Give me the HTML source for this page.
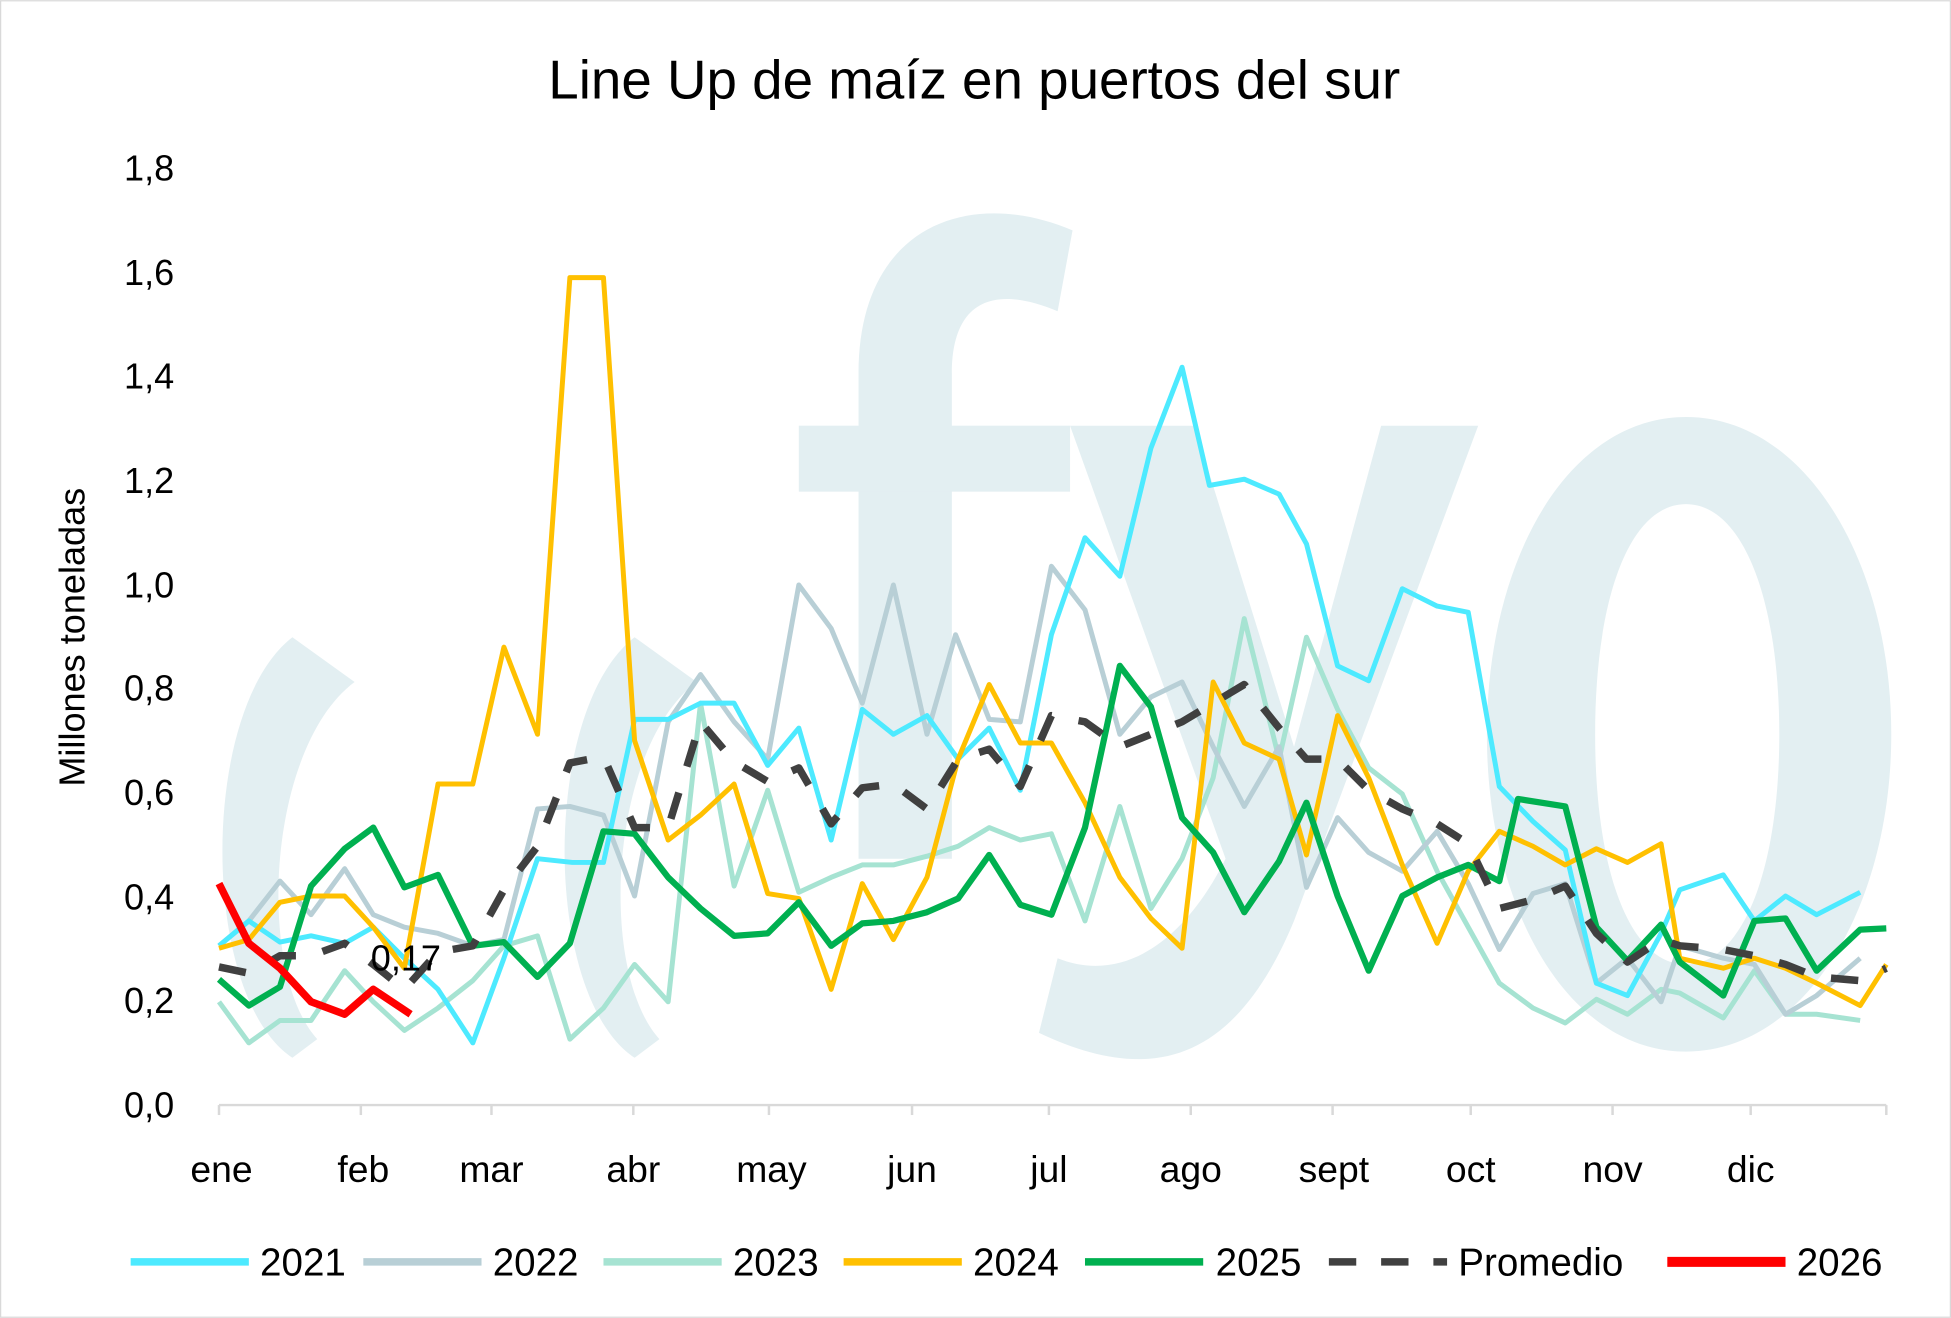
<!DOCTYPE html>
<html><head><meta charset="utf-8"><style>
html,body{margin:0;padding:0;background:#fff}
svg{display:block}
text{font-family:"Liberation Sans",sans-serif}
</style></head><body>
<svg width="1951" height="1318" viewBox="0 0 1568 1059" xmlns="http://www.w3.org/2000/svg">
<rect x="0.5" y="0.5" width="1567" height="1058" fill="#fff" stroke="#d9d9d9"/>
<!-- watermark -->
<g fill="#e3eff2">
<path d="M235,512 C160,570 160,800 235,850 L255,835 C205,780 215,600 285,548 Z"/>
<path d="M510,512 C435,570 435,800 510,850 L530,835 C480,780 490,600 560,548 Z"/>
<path d="M690,690 L690,300 C690,180 780,150 862,185 L850,250 C790,225 765,250 765,300 L765,690 Z"/>
<rect x="642" y="342" width="218" height="53"/>
<path d="M860,342 L960,342 L1040,600 L1110,342 L1188,342 L1040,740 C990,860 920,870 835,830 L850,770 C900,790 950,760 985,690 Z"/>
<path fill-rule="evenodd" d="M1355,335 C1450,335 1520,450 1520,590 C1520,730 1450,845 1355,845 C1260,845 1195,730 1195,590 C1195,450 1260,335 1355,335 Z M1355,405 C1310,405 1282,480 1282,590 C1282,700 1310,775 1355,775 C1400,775 1430,700 1430,590 C1430,480 1400,405 1355,405 Z"/>
</g>
<text x="783" y="79" font-size="44" text-anchor="middle" fill="#000">Line Up de maíz en puertos del sur</text>
<g font-size="29" fill="#000" text-anchor="end">
<text x="140" y="898">0,0</text><text x="140" y="814">0,2</text><text x="140" y="731">0,4</text>
<text x="140" y="647">0,6</text><text x="140" y="563">0,8</text><text x="140" y="480">1,0</text>
<text x="140" y="396">1,2</text><text x="140" y="312">1,4</text><text x="140" y="229">1,6</text>
<text x="140" y="145">1,8</text>
</g>
<text transform="translate(68,512) rotate(-90)" font-size="29" text-anchor="middle">Millones toneladas</text>
<line x1="176" y1="888" x2="1516" y2="888" stroke="#d9d9d9" stroke-width="2"/>
<g stroke="#d9d9d9" stroke-width="2">
<line x1="176" y1="888" x2="176" y2="896"/><line x1="290" y1="888" x2="290" y2="896"/><line x1="395" y1="888" x2="395" y2="896"/><line x1="509" y1="888" x2="509" y2="896"/><line x1="618" y1="888" x2="618" y2="896"/><line x1="733" y1="888" x2="733" y2="896"/><line x1="843" y1="888" x2="843" y2="896"/><line x1="957" y1="888" x2="957" y2="896"/><line x1="1071" y1="888" x2="1071" y2="896"/><line x1="1182" y1="888" x2="1182" y2="896"/><line x1="1296" y1="888" x2="1296" y2="896"/><line x1="1407" y1="888" x2="1407" y2="896"/><line x1="1516" y1="888" x2="1516" y2="896"/>
</g>
<g font-size="30" text-anchor="middle">
<text x="178" y="950">ene</text><text x="292" y="950">feb</text><text x="395" y="950">mar</text><text x="509" y="950">abr</text><text x="620" y="950">may</text><text x="733" y="950">jun</text><text x="843" y="950">jul</text><text x="957" y="950">ago</text><text x="1072" y="950">sept</text><text x="1182" y="950">oct</text><text x="1296" y="950">nov</text><text x="1407" y="950">dic</text>
</g>
<g fill="none" stroke-width="4" stroke-linejoin="round">
<polyline stroke="#a6e3d2" points="176,805 200,838 225,820 250,820 277,780 300,805 325,828 352,810 380,788 405,760 432,752 458,835 485,810 510,775 537,805 563,565 590,712 617,635 642,717 668,705 693,695 718,695 745,688 770,680 795,665 820,675 845,670 872,740 900,648 925,730 950,690 975,625 1000,497 1028,610 1050,512 1075,570 1100,617 1127,638 1155,700 1180,745 1205,790 1232,810 1258,822 1283,803 1308,815 1335,795 1350,798 1385,818 1410,780 1435,815 1460,815 1495,820"/>
<polyline stroke="#b8cfd6" points="176,760 200,740 225,708 250,735 277,698 300,735 325,745 352,750 380,760 405,755 432,650 458,648 485,655 510,720 537,580 563,542 590,580 617,610 642,470 668,505 693,565 718,470 745,590 768,510 795,578 820,580 845,455 872,490 900,590 925,560 950,548 975,600 1000,648 1028,600 1050,713 1075,657 1100,685 1127,700 1155,668 1180,710 1205,763 1232,718 1258,710 1283,790 1308,770 1335,805 1350,760 1385,770 1410,775 1435,815 1460,800 1495,770"/>
<polyline stroke="#4deaff" points="176,760 200,740 225,757 250,752 277,758 300,745 325,770 352,795 380,838 405,770 432,690 460,693 485,693 510,578 537,578 563,565 590,565 617,615 642,585 668,675 693,570 718,590 745,575 770,610 795,585 820,635 845,510 872,432 900,463 925,360 950,295 972,390 1000,385 1028,397 1050,437 1075,535 1100,547 1127,473 1155,487 1180,492 1205,632 1232,660 1258,683 1283,790 1308,800 1335,750 1350,715 1385,703 1410,740 1435,720 1460,735 1495,717"/>
<polyline stroke="#ffc000" points="176,762 200,755 225,725 250,720 277,720 300,745 325,778 352,630 380,630 405,520 432,590 458,223 485,223 510,595 537,675 563,655 590,630 617,718 642,722 668,795 693,710 718,755 745,705 770,610 795,550 820,597 845,597 872,645 900,705 925,738 950,762 975,548 1000,597 1028,610 1050,687 1075,575 1100,625 1127,695 1155,758 1180,700 1205,668 1232,680 1258,695 1283,682 1308,693 1335,678 1350,770 1385,778 1410,770 1435,778 1460,790 1495,808 1516,775"/>
<polyline stroke="#00b050" stroke-width="5" points="176,787 200,808 225,793 250,712 277,682 300,665 325,713 352,703 380,760 405,757 432,785 458,758 485,668 510,670 537,705 563,730 590,752 617,750 642,725 668,760 693,742 718,740 745,733 770,722 795,687 820,727 845,735 872,665 900,535 925,568 950,657 975,685 1000,733 1028,692 1050,645 1075,720 1100,780 1127,720 1155,705 1180,695 1205,708 1220,642 1258,648 1283,745 1308,772 1335,743 1350,773 1385,800 1410,740 1435,738 1460,780 1495,747 1516,746"/>
<polyline stroke="#404040" stroke-width="6" stroke-dasharray="22,22" points="176,777 200,782 225,768 250,768 277,758 300,775 325,795 352,765 380,760 405,715 432,680 458,613 485,608 510,665 537,665 563,580 590,612 617,628 642,617 668,662 693,633 718,630 745,650 770,610 795,602 820,632 845,575 872,580 900,600 925,590 950,580 975,565 1000,550 1028,585 1050,610 1075,610 1100,635 1127,650 1155,662 1180,678 1205,730 1232,723 1258,712 1283,750 1308,773 1335,755 1350,760 1385,763 1410,768 1435,775 1460,785 1495,788 1516,778"/>
<polyline stroke="#ff0000" stroke-width="6" points="176,710 200,758 225,778 250,805 277,815 300,795 330,815"/>
</g>
<text x="298" y="780" font-size="29">0,17</text>
<g stroke-width="6">
<line x1="105" y1="1014" x2="200" y2="1014" stroke="#4deaff"/>
<line x1="292" y1="1014" x2="387" y2="1014" stroke="#b8cfd6"/>
<line x1="485" y1="1014" x2="580" y2="1014" stroke="#a6e3d2"/>
<line x1="678" y1="1014" x2="773" y2="1014" stroke="#ffc000"/>
<line x1="872" y1="1014" x2="967" y2="1014" stroke="#00b050"/>
<line x1="1068" y1="1014" x2="1163" y2="1014" stroke="#404040" stroke-dasharray="22,20"/>
<line x1="1340" y1="1014" x2="1435" y2="1014" stroke="#ff0000" stroke-width="8"/>
</g>
<g font-size="31">
<text x="209" y="1025">2021</text><text x="396" y="1025">2022</text><text x="589" y="1025">2023</text>
<text x="782" y="1025">2024</text><text x="977" y="1025">2025</text><text x="1172" y="1025">Promedio</text>
<text x="1444" y="1025">2026</text>
</g>
</svg>
</body></html>
